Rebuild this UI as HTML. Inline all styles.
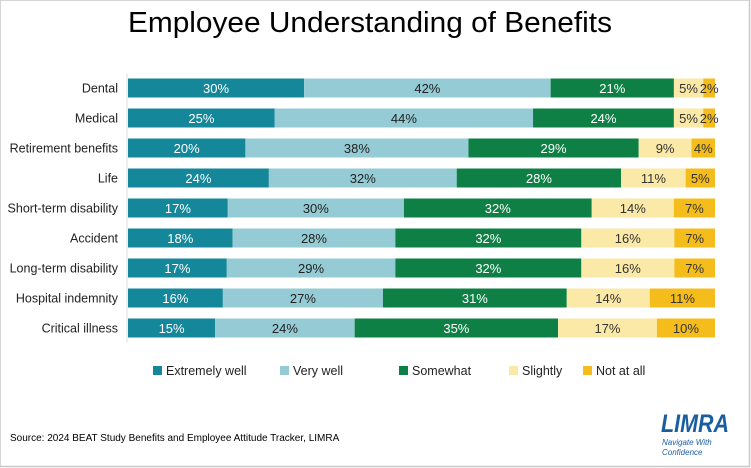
<!DOCTYPE html>
<html><head><meta charset="utf-8"><style>
body{margin:0;background:#fff;}
#wrap{position:relative;width:751px;height:468px;overflow:hidden;font-family:"Liberation Sans",sans-serif;}
</style></head><body>
<div id="wrap">
<svg id="chart" width="751" height="468">
<rect x="0" y="0" width="749.5" height="466.5" fill="#fff" stroke="#c8c8c8" stroke-width="1.5"/>
<text x="370" y="32" text-anchor="middle" font-size="29" fill="#000" font-family="Liberation Sans, sans-serif" textLength="484" lengthAdjust="spacingAndGlyphs">Employee Understanding of Benefits</text>
<line x1="127" y1="74" x2="127" y2="342" stroke="#ddd"/>
<g id="bars"></g>
<g id="legend"></g>
<text x="10" y="441" font-size="10" fill="#000">Source: 2024 BEAT Study Benefits and Employee Attitude Tracker, LIMRA</text>
<g>
<text x="661" y="432" font-size="25" font-weight="bold" fill="#1a5ea0" font-style="italic" textLength="68" lengthAdjust="spacingAndGlyphs">LIMRA</text>
<text x="662" y="445" font-size="8" fill="#1a5ea0" font-style="italic">Navigate With</text>
<text x="662" y="455" font-size="8" fill="#1a5ea0" font-style="italic">Confidence</text>
</g>
</svg>
</div>
<script>
const categories=["Dental","Medical","Retirement benefits","Life","Short-term disability","Accident","Long-term disability","Hospital indemnity","Critical illness"];
const seriesNames=["Extremely well","Very well","Somewhat","Slightly","Not at all"];
const extremelyWell=[30,25,20,24,17,18,17,16,15];
const veryWell=[42,44,38,32,30,28,29,27,24];
const somewhat=[21,24,29,28,32,32,32,31,35];
const slightly=[5,5,9,11,14,16,16,14,17];
const notAtAll=[2,2,4,5,7,7,7,11,10];
const series=[extremelyWell,veryWell,somewhat,slightly,notAtAll];
const colors=["#14879a","#94cbd4","#0e8045","#fbe9a8","#f5bd1c"];
const textColors=["#fff","#222","#fff","#333","#333"];
const ns="http://www.w3.org/2000/svg";
const x0=128,plotW=587,y0=88,step=30,bh=19;
function xs(v,total){return x0+v/total*plotW;}
function ys(i){return y0+i*step;}
const g=document.getElementById('bars');
categories.forEach((c,i)=>{
  const t=document.createElementNS(ns,'text');
  
  
  t.setAttribute('x',118);t.setAttribute('y',ys(i)+4.5);t.setAttribute('text-anchor','end');
  t.setAttribute('font-size','12.5');t.setAttribute('fill','#222');t.textContent=c;g.appendChild(t);
  const total=series.reduce((a,s)=>a+s[i],0);
  let cum=0;
  series.forEach((s,k)=>{
    const v=s[i];
    const r=document.createElementNS(ns,'rect');
    
    
    r.setAttribute('x',xs(cum,total));r.setAttribute('y',ys(i)-bh/2);
    r.setAttribute('width',xs(cum+v,total)-xs(cum,total));r.setAttribute('height',bh);r.setAttribute('fill',colors[k]);
    g.appendChild(r);
    const lt=document.createElementNS(ns,'text');
    
    
    lt.setAttribute('x',(xs(cum,total)+xs(cum+v,total))/2);lt.setAttribute('y',ys(i)+5);
    lt.setAttribute('text-anchor','middle');lt.setAttribute('font-size','13');lt.setAttribute('fill',textColors[k]);
    lt.textContent=v+'%';g.appendChild(lt);
    cum+=v;
  });
});
const lg=document.getElementById('legend');
const lx=[153,280,399,509,583];
seriesNames.forEach((n,k)=>{
  const r=document.createElementNS(ns,'rect');
  
  
  r.setAttribute('x',lx[k]);r.setAttribute('y',366);r.setAttribute('width',9);r.setAttribute('height',9);r.setAttribute('fill',colors[k]);
  lg.appendChild(r);
  const t=document.createElementNS(ns,'text');
  
  
  t.setAttribute('x',lx[k]+13);t.setAttribute('y',375);t.setAttribute('font-size','12.5');t.setAttribute('fill','#222');
  t.textContent=n;lg.appendChild(t);
});
</script>
</body></html>
